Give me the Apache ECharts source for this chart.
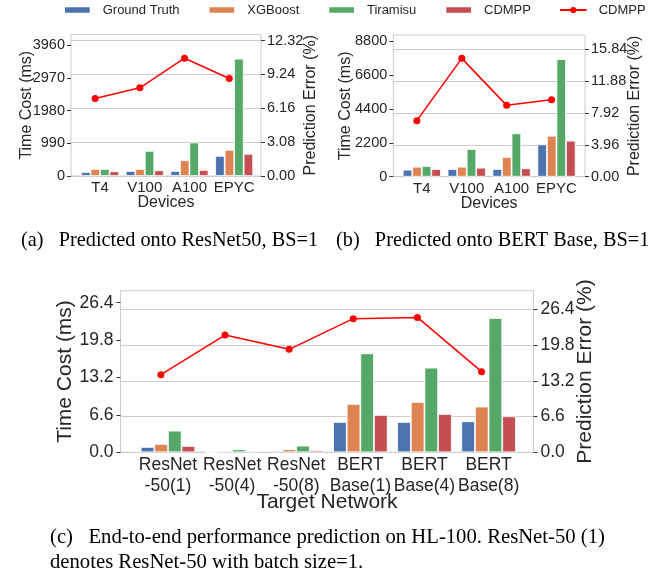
<!DOCTYPE html>
<html><head><meta charset="utf-8">
<script src="https://cdn.jsdelivr.net/npm/echarts@6/dist/echarts.min.js"></script>
<style>html,body{margin:0;padding:0;background:#fff}#c{width:667px;height:585px}</style>
</head><body><div id="c"></div>
<script>
// ---------- data ----------
const seriesNames = ['Ground Truth', 'XGBoost', 'Tiramisu', 'CDMPP'];
const lineName = 'CDMPP';

const devices = ['T4', 'V100', 'A100', 'EPYC'];
// (a) predicted onto ResNet50, BS=1  (ms)
const resnetGT       = [122, 152, 152, 609];
const resnetXGB      = [213, 213, 477, 792];
const resnetTiramisu = [213, 761, 1015, 3553];
const resnetCDMPP    = [142, 173, 183, 670];
const resnetErr      = [7.05, 8.02, 10.71, 8.87];
// (b) predicted onto BERT Base, BS=1 (ms)
const bertGT       = [454, 497, 497, 2097];
const bertXGB      = [649, 649, 1276, 2659];
const bertTiramisu = [692, 1794, 2811, 7632];
const bertCDMPP    = [497, 584, 541, 2335];
const bertErr      = [6.95, 14.68, 8.85, 9.55];
// (c) end-to-end on HL-100 (ms)
const networks = ['ResNet\n-50(1)', 'ResNet\n-50(4)', 'ResNet\n-50(8)', 'BERT\nBase(1)', 'BERT\nBase(4)', 'BERT\nBase(8)'];
const e2eGT       = [0.94, 0.05, 0.24, 5.35, 5.35, 5.47];
const e2eXGB      = [1.47, 0.24, 0.53, 8.53, 8.88, 8.06];
const e2eTiramisu = [3.82, 0.53, 1.18, 17.46, 14.93, 23.70];
const e2eCDMPP    = [1.12, 0.18, 0.35, 6.59, 6.76, 6.35];
const e2eErr      = [14.34, 21.66, 19.02, 24.68, 24.92, 14.89];

// tick labels
const ticksATime = [0, 990, 1980, 2970, 3960];
const ticksAErr  = [0, 3.08, 6.16, 9.24, 12.32];
const ticksBTime = [0, 2200, 4400, 6600, 8800];
const ticksBErr  = [0, 3.96, 7.92, 11.88, 15.84];
const ticksCTime = [0, 6.6, 13.2, 19.8, 26.4];
const ticksCErr  = [0, 6.6, 13.2, 19.8, 26.4];

const captionA = '(a)   Predicted onto ResNet50, BS=1';
const captionB = '(b)   Predicted onto BERT Base, BS=1';
const captionC = '(c)   End-to-end performance prediction on HL-100. ResNet-50 (1)\ndenotes ResNet-50 with batch size=1.';

// ---------- style ----------
const FONT = "'Liberation Sans', Arial, Helvetica, sans-serif";
const SERIF = "'Liberation Serif', 'Times New Roman', serif";
const TXT = '#262626';
const GRIDC = '#cccccc';
const barColors = ['#4C72B0', '#DD8452', '#55A868', '#C44E52'];
const LINE_ID = 'CDMPP(line)';

const panels = [
  { grid: {left: 71, top: 34.5, width: 190, height: 141.5}, cats: devices,
    xMin: -0.65, xMax: 3.60, bars: [resnetGT, resnetXGB, resnetTiramisu, resnetCDMPP], err: resnetErr,
    tMax: 4286, tTicks: ticksATime, eMax: 12.87, eTicks: ticksAErr,
    tFmt: v => String(Math.round(v)), eFmt: v => v.toFixed(2), xName: 'Devices',
    tickFont: 14.5, xTickFont: 15, nameFont: 16, lGap: 36, rGap: 42, xGap: 19, xMargin: 3.5, yMargin: 6, lh: 17 },
  { grid: {left: 393.3, top: 35, width: 191.7, height: 141.7}, cats: devices,
    xMin: -0.635, xMax: 3.635, bars: [bertGT, bertXGB, bertTiramisu, bertCDMPP], err: bertErr,
    tMax: 9195, tTicks: ticksBTime, eMax: 17.58, eTicks: ticksBErr,
    tFmt: v => String(Math.round(v)), eFmt: v => v.toFixed(2), xName: 'Devices',
    tickFont: 14.5, xTickFont: 15, nameFont: 16, lGap: 40, rGap: 42, xGap: 19, xMargin: 3.5, yMargin: 6, lh: 17 },
  { grid: {left: 120.5, top: 290.7, width: 413, height: 161.6}, cats: networks,
    xMin: -0.74, xMax: 5.70, bars: [e2eGT, e2eXGB, e2eTiramisu, e2eCDMPP], err: e2eErr,
    tMax: 28.52, tTicks: ticksCTime, eMax: 29.85, eTicks: ticksCErr,
    tFmt: v => v.toFixed(1), eFmt: v => v.toFixed(1), xName: 'Target Network',
    tickFont: 17.5, xTickFont: 17.5, nameFont: 21, lGap: 45, rGap: 41, xGap: 39.5, xMargin: 3, yMargin: 7, lh: 20.5 }
];

const LINE_SHIFT = 0.11; // line markers sit slightly left of the bar-group centres in the reference

const option = {
  animation: false,
  textStyle: {fontFamily: FONT},
  legend: {
    top: 3.5, left: 63, padding: 0,
    itemWidth: 26.7, itemHeight: 7.7, itemGap: 28,
    textStyle: {fontFamily: FONT, fontSize: 13, color: TXT, padding: [0, 0, 0, 7]},
    data: seriesNames.map(n => ({name: n, icon: 'rect'})).concat([{name: LINE_ID}]),
    formatter: n => (n === LINE_ID ? lineName : n)
  },
  title: [
    {text: captionA, left: 21, top: 230.5, padding: 0,
     textStyle: {fontFamily: SERIF, fontSize: 20.3, fontWeight: 'normal', color: '#000'}},
    {text: captionB, left: 336, top: 230.5, padding: 0,
     textStyle: {fontFamily: SERIF, fontSize: 20.3, fontWeight: 'normal', color: '#000'}},
    {text: captionC, left: 50, top: 525.5, padding: 0,
     textStyle: {fontFamily: SERIF, fontSize: 20.7, fontWeight: 'normal', color: '#000', lineHeight: 24.5}}
  ],
  grid: [], xAxis: [], yAxis: [], series: []
};

panels.forEach((p, k) => {
  option.grid.push(Object.assign({show: true, borderColor: GRIDC, borderWidth: 1, containLabel: false}, p.grid));
  const idx = p.cats.map((_, i) => i);
  // bar x axis
  option.xAxis.push({
    type: 'value', gridIndex: k, min: p.xMin, max: p.xMax,
    axisLine: {show: false, onZero: false}, axisTick: {show: false}, splitLine: {show: false},
    axisLabel: {customValues: idx, formatter: v => p.cats[Math.round(v)], fontSize: p.xTickFont,
                color: TXT, margin: p.xMargin, lineHeight: p.lh, fontFamily: FONT},
    name: p.xName, nameLocation: 'middle', nameGap: p.xGap, nameMoveOverlap: false,
    nameTextStyle: {fontSize: p.nameFont, color: TXT, fontFamily: FONT}
  });
  // line x axis (hidden)
  option.xAxis.push({
    type: 'value', gridIndex: k, min: p.xMin + LINE_SHIFT, max: p.xMax + LINE_SHIFT, show: false,
    axisLine: {onZero: false}
  });
  // left y (time)
  option.yAxis.push({
    type: 'value', gridIndex: k, position: 'left', min: 0, max: p.tMax, interval: p.tTicks[1],
    axisLine: {show: false, onZero: false},
    axisTick: {show: true, length: 4, customValues: p.tTicks, lineStyle: {color: '#333'}},
    axisLabel: {customValues: p.tTicks, formatter: p.tFmt, fontSize: p.tickFont, color: TXT, margin: p.yMargin, fontFamily: FONT},
    splitLine: {show: false},
    name: 'Time Cost (ms)', nameLocation: 'middle', nameGap: p.lGap, nameMoveOverlap: false,
    nameTextStyle: {fontSize: p.nameFont, color: TXT, fontFamily: FONT}
  });
  // right y (error)
  option.yAxis.push({
    type: 'value', gridIndex: k, position: 'right', min: 0, max: p.eMax, interval: p.eTicks[1],
    axisLine: {show: false, onZero: false},
    axisTick: {show: true, length: 4, customValues: p.eTicks, lineStyle: {color: '#333'}},
    axisLabel: {customValues: p.eTicks, formatter: p.eFmt, fontSize: p.tickFont, color: TXT, margin: p.yMargin, fontFamily: FONT},
    splitLine: {show: true, lineStyle: {color: GRIDC, width: 1}},
    name: 'Prediction Error (%)', nameLocation: 'middle', nameGap: p.rGap, nameMoveOverlap: false,
    nameTextStyle: {fontSize: p.nameFont, color: TXT, fontFamily: FONT}
  });
  p.bars.forEach((vals, s) => {
    option.series.push({
      type: 'bar', name: seriesNames[s], xAxisIndex: 2 * k, yAxisIndex: 2 * k,
      data: vals.map((v, i) => [i, v]),
      barGap: '0%', barCategoryGap: '15%',
      itemStyle: {color: barColors[s], borderColor: '#ffffff', borderWidth: 0.8},
      z: 2
    });
  });
  option.series.push({
    type: 'line', name: LINE_ID, xAxisIndex: 2 * k + 1, yAxisIndex: 2 * k + 1,
    data: p.err.map((v, i) => [i, v]),
    symbol: 'circle', symbolSize: 7, showSymbol: true,
    lineStyle: {color: '#ff0000', width: 1.5},
    itemStyle: {color: '#ff0000'},
    z: 5
  });
});

const chart = echarts.init(document.getElementById('c'), null, {renderer: 'canvas'});
chart.setOption(option);
</script>
</body></html>
